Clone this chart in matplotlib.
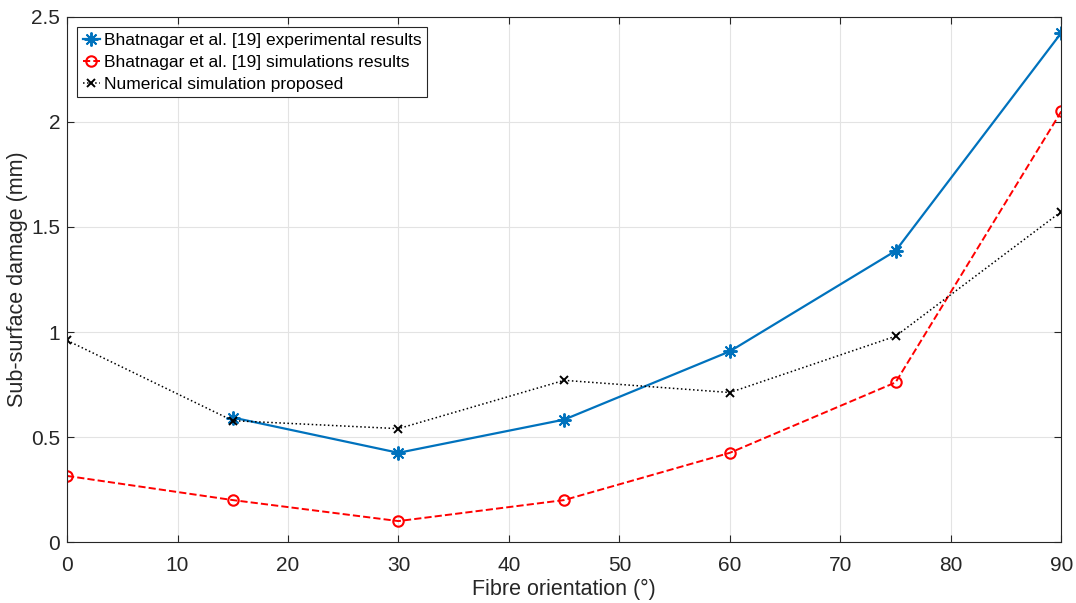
import matplotlib
matplotlib.use("Agg")
import matplotlib.pyplot as plt

plt.rcParams['font.family'] = ['Liberation Sans', 'DejaVu Sans']

orientation = [0, 15, 30, 45, 60, 75, 90]
experimental = [0.593, 0.425, 0.583, 0.908, 1.386, 2.424]
simulations = [0.315, 0.20, 0.10, 0.20, 0.425, 0.76, 2.05]
numerical = [0.96, 0.578, 0.54, 0.77, 0.712, 0.98, 1.573]

fig = plt.figure(figsize=(10.76, 6.03), dpi=100)
ax = fig.add_axes([0.0623, 0.101, 0.924, 0.871])

# asterisk marker with 8 spokes, like the MATLAB '*'
ax.plot(orientation[1:], experimental, color='#0072BD', lw=1.6, marker=(8, 2, 0),
        ms=10, mew=1.4, label='Bhatnagar et al. [19] experimental results')
ax.plot(orientation, simulations, color='r', lw=1.4, ls='--', marker='o',
        ms=7.5, mfc='none', mew=1.5, label='Bhatnagar et al. [19] simulations results')
ax.plot(orientation, numerical, color='k', lw=1.1, ls=':', marker='x',
        ms=6, mew=1.4, label='Numerical simulation proposed')

ax.set_xlim(0, 90)
ax.set_ylim(0, 2.5)
ax.set_xticks(range(0, 91, 10))
ax.set_yticks([0, 0.5, 1, 1.5, 2, 2.5])
ax.set_yticklabels(['0', '0.5', '1', '1.5', '2', '2.5'])
ax.grid(True, color='#e3e3e3', lw=0.8)
ax.set_axisbelow(True)
ax.tick_params(direction='in', top=True, right=True, labelsize=15,
               colors='#262626', length=5)
ax.tick_params(axis='x', pad=10)
ax.tick_params(axis='y', pad=5)
for s in ax.spines.values():
    s.set_color('#262626')
    s.set_linewidth(0.8)

ax.set_xlabel('Fibre orientation (°)', fontsize=15.5, color='#262626', labelpad=3)
ax.set_ylabel('Sub-surface damage (mm)', fontsize=15.5, color='#262626', labelpad=2)

leg = ax.legend(loc='upper left', fontsize=12.5, fancybox=False,
                edgecolor='#262626', framealpha=1, borderaxespad=0.6,
                handlelength=1.0, handletextpad=0.25, borderpad=0.3,
                labelspacing=0.4)
leg.get_frame().set_linewidth(0.8)

fig.savefig('out.png', dpi=100)
